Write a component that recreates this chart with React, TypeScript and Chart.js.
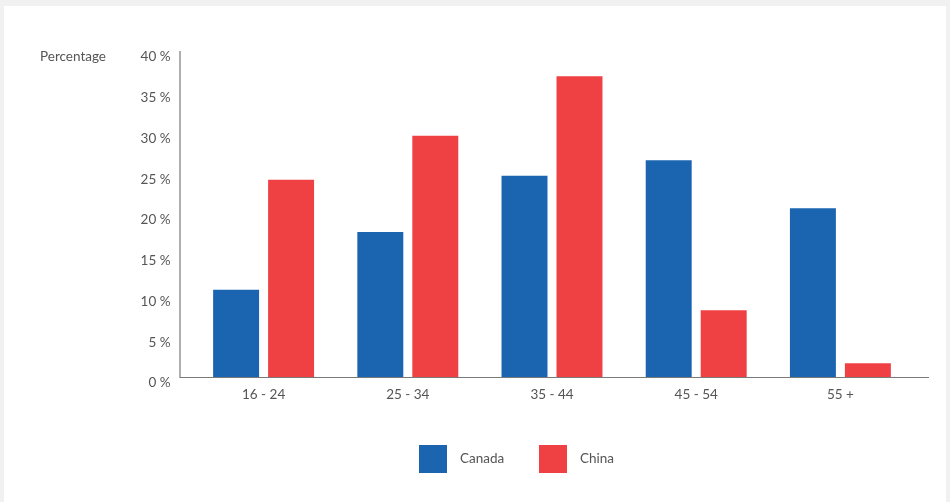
import React, { useEffect, useRef } from "react";
import { Chart, registerables } from "chart.js";

Chart.register(...registerables);

const categories = ["16 - 24", "25 - 34", "35 - 44", "45 - 54", "55 +"];
const canadaValues = [10.7, 17.8, 24.7, 26.6, 20.7];
const chinaValues = [24.2, 29.6, 36.9, 8.2, 1.7];
const seriesNames = ["Canada", "China"];
const seriesColors = ["#1a64b0", "#ef4044"];
const yTicks = [0, 5, 10, 15, 20, 25, 30, 35, 40];
const yAxisTitle = "Percentage";

const FONT = "Lato, 'Noto Sans', sans-serif";
const TEXT = "#555555";

const framePlugin = {
  id: "frame",
  beforeDraw(chart: any) {
    const ctx = chart.ctx;
    ctx.save();
    ctx.fillStyle = "#f1f1f1";
    ctx.fillRect(0, 0, chart.width, chart.height);
    ctx.fillStyle = "#ffffff";
    ctx.fillRect(4, 6, 942, chart.height - 6);
    ctx.restore();
  },
  afterDraw(chart: any) {
    const ctx = chart.ctx;
    const y = chart.scales.y;
    const area = chart.chartArea;
    ctx.save();
    ctx.strokeStyle = "#7a7a7a";
    ctx.lineWidth = 1.2;
    ctx.beginPath();
    ctx.moveTo(180, y.getPixelForValue(40));
    ctx.lineTo(180, area.bottom + 0.5);
    ctx.lineTo(929, area.bottom + 0.5);
    ctx.stroke();

    // y axis title
    ctx.fillStyle = TEXT;
    ctx.font = `13.5px ${FONT}`;
    ctx.textBaseline = "middle";
    ctx.textAlign = "left";
    ctx.fillText(yAxisTitle, 40, 57);

    // legend
    const items = chart.data.datasets;
    let x = 419;
    const boxTop = 445;
    items.forEach((ds: any) => {
      ctx.fillStyle = ds.backgroundColor;
      ctx.fillRect(x, boxTop, 28, 28);
      ctx.fillStyle = TEXT;
      ctx.font = `13.5px ${FONT}`;
      ctx.textAlign = "left";
      ctx.textBaseline = "middle";
      ctx.fillText(ds.label, x + 41, boxTop + 14);
      x += 120;
    });
    ctx.restore();
  },
};

export default function App() {
  const ref = useRef<HTMLCanvasElement>(null);
  useEffect(() => {
    document.body.style.margin = "0";
    const chart = new Chart(ref.current!, {
      type: "bar",
      data: {
        labels: categories,
        datasets: [
          {
            label: seriesNames[0],
            data: canadaValues,
            backgroundColor: seriesColors[0],
            borderWidth: 0,
          },
          {
            label: seriesNames[1],
            data: chinaValues,
            backgroundColor: seriesColors[1],
            borderWidth: 0,
          },
        ],
      },
      options: {
        animation: false,
        responsive: false,
        maintainAspectRatio: false,
        layout: { padding: { left: 0, right: 37.5, top: 51, bottom: 0 } },
        plugins: {
          legend: { display: false },
          tooltip: { enabled: false },
        },
        datasets: {
          bar: { categoryPercentage: 0.7626, barPercentage: 0.836 },
        },
        scales: {
          x: {
            afterFit(scale: any) {
              scale.height = 125;
            },
            grid: { display: false, drawTicks: false },
            border: { display: false },
            ticks: {
              color: TEXT,
              font: { family: FONT, size: 13.5 },
              padding: 10,
            },
          },
          y: {
            min: 0,
            max: 40,
            afterFit(scale: any) {
              scale.width = 191.5;
            },
            afterBuildTicks(scale: any) {
              scale.ticks = yTicks.map((v) => ({ value: v }));
            },
            grid: { display: false, drawTicks: false },
            border: { display: false },
            ticks: {
              color: TEXT,
              font: { family: FONT, size: 13.5 },
              padding: 21,
              labelOffset: 6,
              callback: (v: any) => `${v} %`,
            },
          },
        },
      },
      plugins: [framePlugin],
    } as any);
    return () => chart.destroy();
  }, []);
  return (
    <div style={{ width: 950, height: 502 }}>
      <canvas ref={ref} width={950} height={502} style={{ display: "block" }} />
    </div>
  );
}
